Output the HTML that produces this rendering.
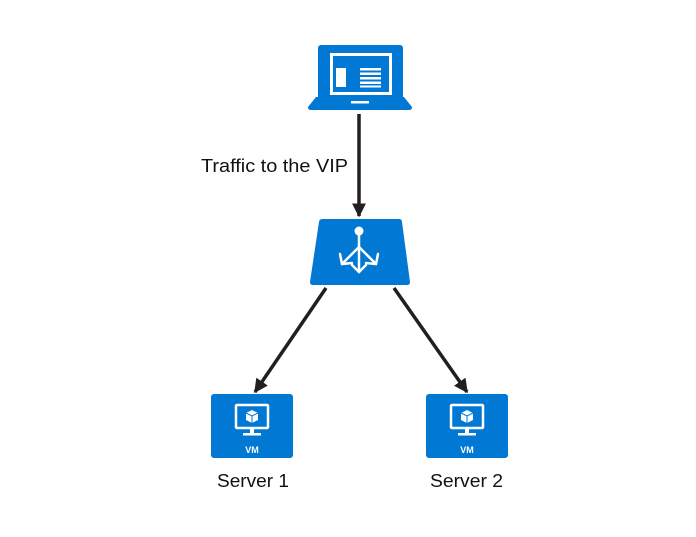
<!DOCTYPE html>
<html><head><style>
body{margin:0;background:#fff;width:696px;height:537px;overflow:hidden}
svg{display:block}
text{font-family:"Segoe UI","Liberation Sans",sans-serif}
</style></head><body>
<svg width="696" height="537" viewBox="0 0 696 537">
<defs>
<marker id="ah2" viewBox="0 0 10 10" markerWidth="14" markerHeight="14" refX="9" refY="5" orient="auto" markerUnits="userSpaceOnUse"><path d="M0,0 L10,5 L0,10 Z" fill="#231f20"/></marker></defs>
<!-- laptop -->
<rect x="318" y="45" width="85" height="56" rx="3" fill="#0078d4"/>
<rect x="330" y="53" width="62" height="42" fill="#fff"/>
<rect x="333" y="56" width="56" height="36" fill="#0078d4"/>
<rect x="336" y="68" width="10" height="19" fill="#fff"/>
<g fill="#fff"><rect x="360" y="68" width="21" height="2.5"/><rect x="360" y="72.5" width="21" height="2.5"/><rect x="360" y="77" width="21" height="2.5"/><rect x="360" y="81.5" width="21" height="2.5"/><rect x="360" y="85.5" width="21" height="2"/></g>
<path d="M316,97 L404,97 L412,107 Q412,110 409,110 L311,110 Q308,110 308,107 Z" fill="#0078d4"/>
<rect x="351" y="101" width="18" height="2.5" fill="#fff"/>
<!-- arrow 1 -->
<line x1="359" y1="114" x2="359" y2="216" stroke="#231f20" stroke-width="3.5" marker-end="url(#ah2)"/>
<text x="201" y="172" font-size="18" fill="#111" textLength="147" lengthAdjust="spacingAndGlyphs">Traffic to the VIP</text>
<!-- LB -->
<path d="M323,219 L399,219 Q402,219 402,222 L410,282 Q410,285 407,285 L313,285 Q310,285 310,282 L319,222 Q319,219 323,219 Z" fill="#0078d4"/>
<g stroke="#fff" stroke-width="2.5" fill="none" stroke-linecap="round">
<line x1="359" y1="233" x2="359" y2="272"/>
<line x1="359" y1="247" x2="343" y2="263"/>
<line x1="359" y1="247" x2="375" y2="263"/>
<path d="M340,254 L342,264 L352,263"/><path d="M378,254 L376,264 L366,263"/><path d="M352,265 L359,272 L366,265"/>
</g>
<circle cx="359" cy="231" r="4.5" fill="#fff"/>
<!-- arrows -->
<line x1="326" y1="288" x2="255" y2="392" stroke="#231f20" stroke-width="3.5" marker-end="url(#ah2)"/>
<line x1="394" y1="288" x2="467" y2="392" stroke="#231f20" stroke-width="3.5" marker-end="url(#ah2)"/>
<!-- VMs -->
<g id="vm">
<rect x="211" y="394" width="82" height="64" rx="3" fill="#0078d4"/>
<rect x="236" y="405" width="32" height="23" rx="1" fill="none" stroke="#fff" stroke-width="2.5"/>
<rect x="250" y="429" width="4" height="5" fill="#fff"/>
<rect x="243" y="433" width="18" height="2.5" fill="#fff"/>
<path d="M252,410 L258,413 L258,420 L252,423 L246,420 L246,413 Z" fill="#fff"/>
<path d="M246,413 L252,416 L258,413 M252,416 L252,423" stroke="#0078d4" stroke-width="1" fill="none"/>
<text x="252" y="453" font-size="9" font-weight="bold" fill="#fff" text-anchor="middle">VM</text>
</g>
<use href="#vm" x="215"/>
<text x="217" y="487" font-size="18" fill="#111" textLength="72" lengthAdjust="spacingAndGlyphs">Server 1</text>
<text x="430" y="487" font-size="18" fill="#111" textLength="73" lengthAdjust="spacingAndGlyphs">Server 2</text>
</svg>
</body></html>
